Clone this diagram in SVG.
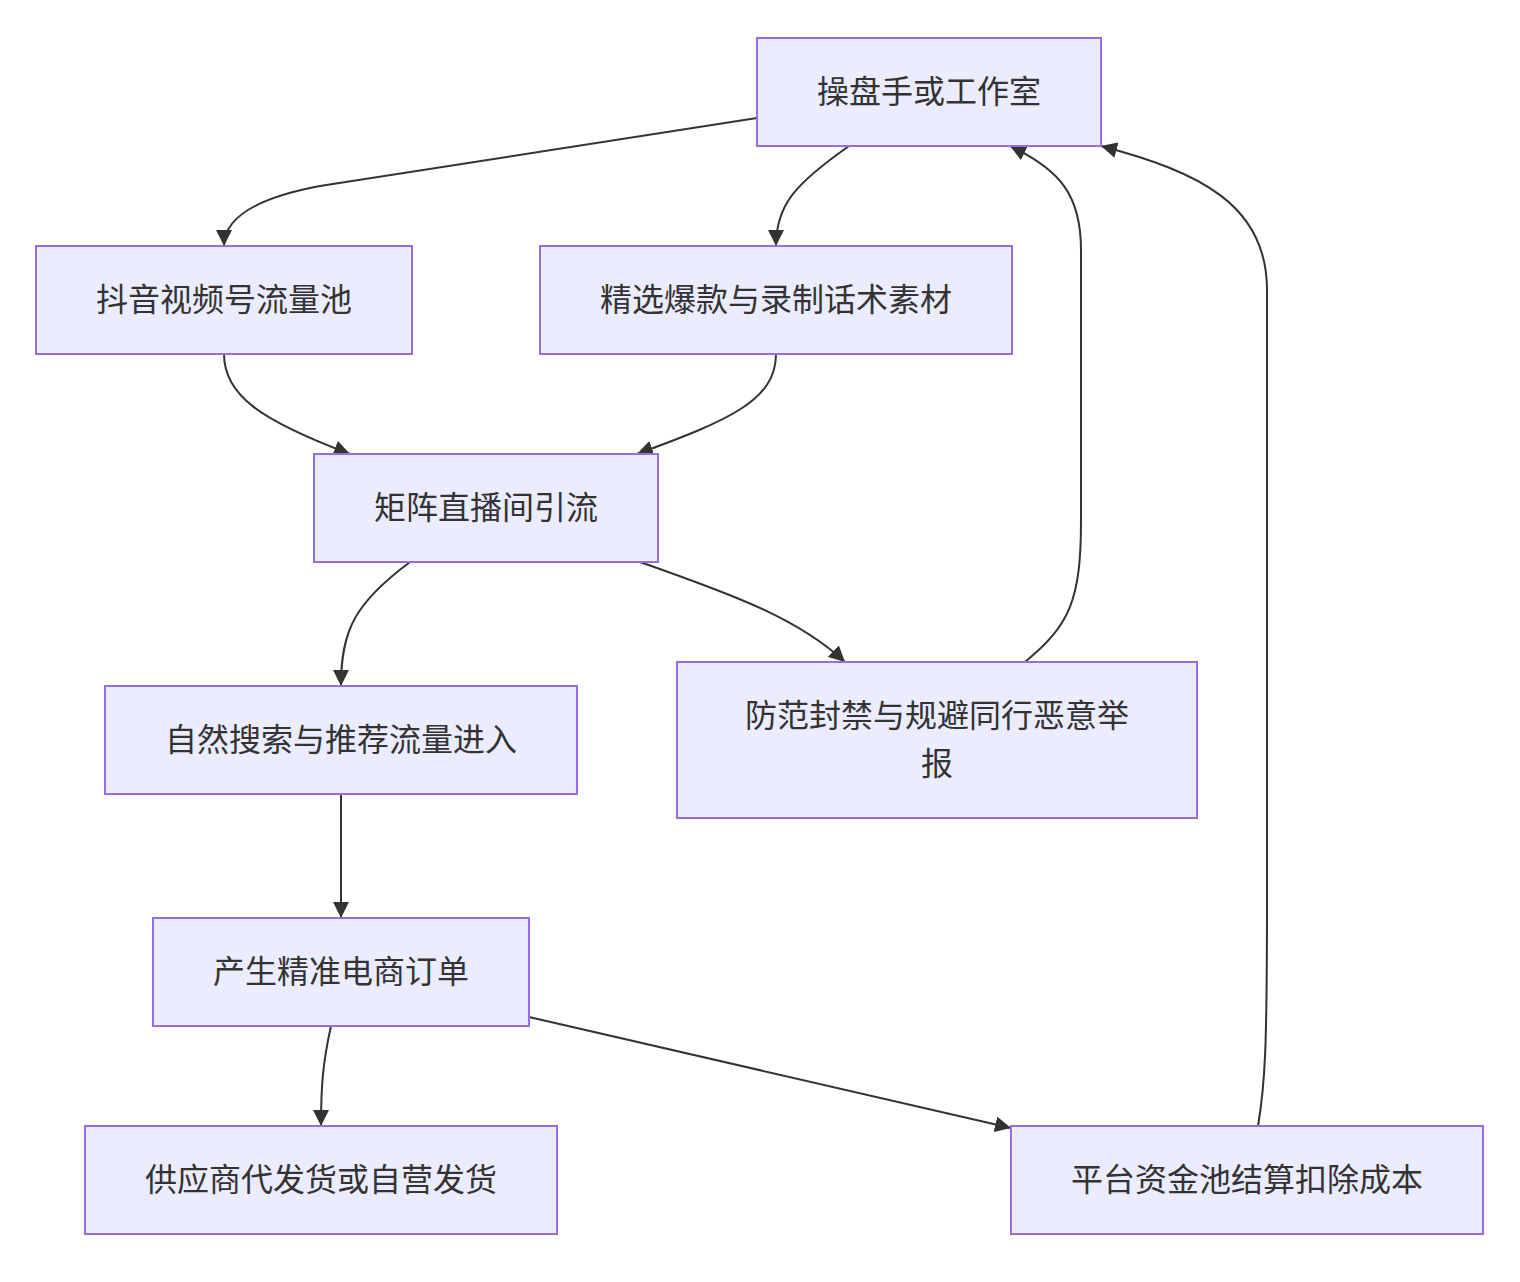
<svg xmlns="http://www.w3.org/2000/svg" width="1520" height="1282" viewBox="0 0 1520 1282">
<style>
.node rect{fill:#ECECFF;stroke:#9370DB;stroke-width:2}
.node text{font-family:"Noto Sans CJK SC","Liberation Sans",sans-serif;font-size:32px;fill:#333333;text-anchor:middle;dominant-baseline:central}
.edges path{fill:none;stroke:#333333;stroke-width:2;marker-end:url(#arrow)}
</style>
<defs>
<marker id="arrow" viewBox="0 0 10 10" refX="10" refY="5" markerUnits="userSpaceOnUse" markerWidth="16" markerHeight="16" orient="auto">
<path d="M0,0 L10,5 L0,10 z" fill="#333333"/>
</marker>
</defs>
<rect width="1520" height="1282" fill="#ffffff"/>
<g class="edges">
<path d="M757,118 L320,186 Q224,204 224,246"/>
<path d="M849,146 C795,184 776,205 776,246"/>
<path d="M224,354 C224,395 260,420 350,454"/>
<path d="M776,354 C776,400 730,420 637,454"/>
<path d="M410,562 C355,603 341,630 341,686"/>
<path d="M640,562 C740,597 800,620 845,662"/>
<path d="M1025,662 C1070,625 1081,600 1081,520 L1081,250 C1081,195 1060,170 1010,146"/>
<path d="M341,794 L341,918"/>
<path d="M331,1026 C323,1062 321,1085 321,1126"/>
<path d="M529,1017 L1011,1128"/>
<path d="M1258,1126 C1265,1085 1267,1050 1267,900 L1267,290 C1267,205 1200,172 1101,146"/>
</g>
<g id="A" class="node"><rect x="757" y="38" width="344" height="108"/><text x="929" y="89">操盘手或工作室</text></g>
<g id="B" class="node"><rect x="36" y="246" width="376" height="108"/><text x="224" y="297">抖音视频号流量池</text></g>
<g id="C" class="node"><rect x="540" y="246" width="472" height="108"/><text x="776" y="297">精选爆款与录制话术素材</text></g>
<g id="D" class="node"><rect x="314" y="454" width="344" height="108"/><text x="486" y="505">矩阵直播间引流</text></g>
<g id="E" class="node"><rect x="105" y="686" width="472" height="108"/><text x="341" y="737">自然搜索与推荐流量进入</text></g>
<g id="F" class="node"><rect x="677" y="662" width="520" height="156"/><text x="937" y="713">防范封禁与规避同行恶意举</text><text x="937" y="761">报</text></g>
<g id="G" class="node"><rect x="153" y="918" width="376" height="108"/><text x="341" y="969">产生精准电商订单</text></g>
<g id="H" class="node"><rect x="85" y="1126" width="472" height="108"/><text x="321" y="1177">供应商代发货或自营发货</text></g>
<g id="I" class="node"><rect x="1011" y="1126" width="472" height="108"/><text x="1247" y="1177">平台资金池结算扣除成本</text></g>
</svg>
